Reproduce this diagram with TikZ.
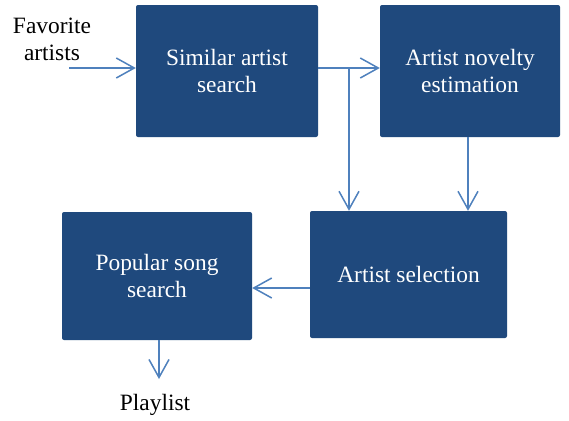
\documentclass[tikz,border=0pt]{standalone}
\usepackage{fontspec}
\setmainfont{Liberation Serif}
\usetikzlibrary{arrows.meta}
\definecolor{boxblue}{HTML}{1F497D}
\definecolor{arrowblue}{HTML}{4F81BD}
\begin{document}
\begin{tikzpicture}[x=1bp,y=-1bp,
  procbox/.style={draw=none, fill=boxblue, rounded corners=2bp, text=white,
    align=center, inner sep=0pt, font=\fontsize{23.5}{27}\selectfont},
  plain/.style={align=center, inner sep=0pt, font=\fontsize{23.5}{27}\selectfont},
  conn/.style={draw=arrowblue, line width=1.5bp, -{Straight Barb[length=18bp,width=20bp,line width=1.5bp]}}]
\useasboundingbox[fill=white] (0,0) rectangle (569,420);
\node[procbox, minimum width=182bp, minimum height=132bp] (sim) at (227,71) {Similar artist\\search};
\node[procbox, minimum width=180bp, minimum height=132bp] (nov) at (470,71) {Artist novelty\\estimation};
\node[procbox, minimum width=197bp, minimum height=127bp] (sel) at (408.5,274.5) {Artist selection};
\node[procbox, minimum width=190bp, minimum height=128bp] (pop) at (157,276) {Popular song\\search};
\node[plain] (fav) at (52,39) {Favorite\\artists};
\node[plain] (pl) at (155,405) {Playlist};
\coordinate (favstart) at (69,68);
\coordinate (branch) at (349,68);
\coordinate (plend) at (159,379);
\draw[conn] (favstart) -- (favstart -| sim.west);
\draw[conn] (sim.east |- branch) -- (branch -| nov.west);
\draw[conn] (branch) -- (branch |- sel.north);
\draw[conn] (nov.south -| 468,0) -- (468,0 |- sel.north);
\draw[conn] (sel.west |- 0,288) -- (pop.east |- 0,288);
\draw[conn] (pop.south -| plend) -- (plend);
\end{tikzpicture}
\end{document}
